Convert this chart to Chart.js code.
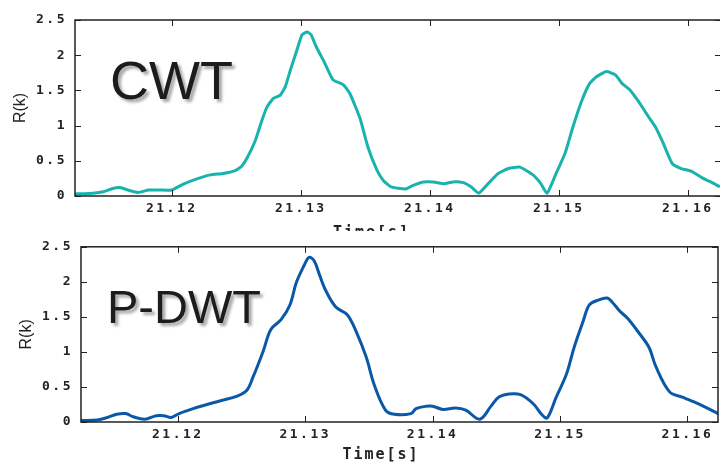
<!DOCTYPE html>
<html>
<head>
<meta charset="utf-8">
<script src="https://cdn.jsdelivr.net/npm/chart.js@4/dist/chart.umd.min.js"></script>
<style>
  html, body { margin: 0; padding: 0; background: #fff; overflow: hidden; }
  #wrap { position: relative; width: 720px; height: 468px; }
  canvas { position: absolute; left: 0; background: #fff; }
  #top { top: 0; }
  #bot { top: 231px; }
</style>
</head>
<body>
<div id="wrap">
  <canvas id="top" width="722" height="240"></canvas>
  <canvas id="bot" width="720" height="237"></canvas>
</div>
<script>
// valores: R(k) frente al tiempo [s]
const cwtTime = [21.1125, 21.1139, 21.1147, 21.1153, 21.1160, 21.1166, 21.1174, 21.1182, 21.1191, 21.1200,
  21.1209, 21.1219, 21.1230, 21.1240, 21.1249, 21.1254, 21.1259, 21.1265, 21.1270, 21.1274,
  21.1279, 21.1284, 21.1288, 21.1292, 21.1297, 21.1301, 21.1305, 21.1308, 21.1312, 21.1318,
  21.1325, 21.1333, 21.1338, 21.1346, 21.1352, 21.1359, 21.1364, 21.1370, 21.1381, 21.1387,
  21.1395, 21.1403, 21.1411, 21.1418, 21.1426, 21.1432, 21.1438, 21.1445, 21.1453, 21.1461,
  21.1470, 21.1480, 21.1486, 21.1491, 21.1498, 21.1505, 21.1511, 21.1518, 21.1524, 21.1529,
  21.1537, 21.1544, 21.1549, 21.1555, 21.1562, 21.1568, 21.1575, 21.1581, 21.1588, 21.1595,
  21.1603, 21.1612, 21.1620, 21.1625];
const cwtR = [0.03, 0.04, 0.06, 0.10, 0.12, 0.085, 0.05, 0.085, 0.085, 0.085,
  0.17, 0.24, 0.30, 0.32, 0.36, 0.42, 0.56, 0.80, 1.08, 1.27,
  1.39, 1.43, 1.55, 1.79, 2.07, 2.29, 2.33, 2.29, 2.12, 1.91,
  1.65, 1.58, 1.46, 1.10, 0.70, 0.37, 0.22, 0.13, 0.10, 0.15,
  0.20, 0.20, 0.175, 0.20, 0.19, 0.13, 0.04, 0.17, 0.32, 0.39,
  0.41, 0.30, 0.18, 0.04, 0.32, 0.61, 0.98, 1.36, 1.60, 1.69,
  1.77, 1.72, 1.60, 1.51, 1.34, 1.17, 0.98, 0.75, 0.46, 0.39,
  0.35, 0.25, 0.18, 0.13];

const dwtTime = [21.1124, 21.1137, 21.1144, 21.1152, 21.1159, 21.1165, 21.1174, 21.1183, 21.1189, 21.1195,
  21.1201, 21.1212, 21.1225, 21.1235, 21.1246, 21.1254, 21.1259, 21.1267, 21.1273, 21.1281,
  21.1288, 21.1293, 21.1299, 21.1303, 21.1307, 21.1311, 21.1316, 21.1324, 21.1333, 21.1340,
  21.1348, 21.1354, 21.1363, 21.1370, 21.1383, 21.1387, 21.1395, 21.1400, 21.1408, 21.1418,
  21.1426, 21.1437, 21.1446, 21.1452, 21.1460, 21.1469, 21.1479, 21.1486, 21.1490, 21.1497,
  21.1505, 21.1511, 21.1518, 21.1523, 21.1530, 21.1537, 21.1541, 21.1547, 21.1553, 21.1562,
  21.1570, 21.1575, 21.1586, 21.1596, 21.1604, 21.1612, 21.1624];
const dwtR = [0.02, 0.03, 0.06, 0.11, 0.12, 0.075, 0.04, 0.09, 0.09, 0.065,
  0.12, 0.19, 0.26, 0.31, 0.365, 0.45, 0.64, 1.01, 1.32, 1.46,
  1.67, 1.99, 2.23, 2.35, 2.30, 2.11, 1.88, 1.64, 1.53, 1.29,
  0.92, 0.54, 0.17, 0.11, 0.12, 0.19, 0.225, 0.225, 0.18, 0.20,
  0.17, 0.04, 0.23, 0.355, 0.40, 0.39, 0.26, 0.10, 0.06, 0.355,
  0.68, 1.06, 1.43, 1.67, 1.74, 1.77, 1.71, 1.58, 1.48, 1.27,
  1.06, 0.80, 0.43, 0.355, 0.295, 0.23, 0.12];

const xTicks = [21.12, 21.13, 21.14, 21.15, 21.16];
const yTicks = [0, 0.5, 1, 1.5, 2, 2.5];
const X_TITLE = 'Time[s]';
const Y_TITLE = 'R(k)';

const COLOR_CWT = '#19b3ae';
const COLOR_DWT = '#0a58a8';
const INK = '#222';
const TICK = 6;

// marco con ticks hacia dentro en los cuatro lados + textos
const framePlugin = {
  id: 'frame',
  beforeDraw(chart) {
    chart.ctx.letterSpacing = '2.5px';
  },
  afterDraw(chart, args, opts) {
    const { ctx, chartArea: a, scales } = chart;
    ctx.save();
    ctx.strokeStyle = INK;
    ctx.lineWidth = 1;
    ctx.beginPath();
    scales.x.ticks.forEach(t => {
      const px = Math.round(scales.x.getPixelForValue(t.value)) + 0.5;
      ctx.moveTo(px, a.bottom); ctx.lineTo(px, a.bottom - TICK);
      ctx.moveTo(px, a.top); ctx.lineTo(px, a.top + TICK);
    });
    scales.y.ticks.forEach(t => {
      const py = Math.round(scales.y.getPixelForValue(t.value)) + 0.5;
      ctx.moveTo(a.left, py); ctx.lineTo(a.left + TICK, py);
      ctx.moveTo(a.right, py); ctx.lineTo(a.right - TICK, py);
    });
    ctx.stroke();
    ctx.lineWidth = 1.5;
    ctx.strokeRect(a.left, a.top, a.right - a.left, a.bottom - a.top);

    ctx.fillStyle = INK;
    ctx.textAlign = 'center';
    ctx.textBaseline = 'middle';
    ctx.font = 'bold 15px "DejaVu Sans Mono"';
    ctx.letterSpacing = '2px';
    ctx.fillText(X_TITLE, a.left + (a.right - a.left) * opts.titleFrac, a.bottom + opts.titleDy);

    ctx.letterSpacing = '0px';
    ctx.save();
    ctx.translate(a.left - 54, (a.top + a.bottom) / 2);
    ctx.rotate(-Math.PI / 2);
    ctx.font = '16px "Liberation Sans"';
    ctx.fillText(Y_TITLE, 0, 0);
    ctx.restore();

    ctx.textAlign = 'left';
    ctx.textBaseline = 'alphabetic';
    ctx.font = opts.size + 'px "Liberation Sans"';
    ctx.shadowColor = 'rgba(0,0,0,0.35)';
    ctx.shadowOffsetX = 3;
    ctx.shadowOffsetY = 3;
    ctx.shadowBlur = 3;
    ctx.fillStyle = '#1c1c1c';
    ctx.fillText(opts.label, a.left + opts.dx, a.top + opts.dy);
    ctx.restore();
  }
};

function makeChart(canvas, times, values, cfg) {
  const points = times.map((t, i) => ({ x: t, y: values[i] }));
  const tickFont = { family: '"DejaVu Sans Mono"', size: 13, weight: 'bold' };
  return new Chart(canvas.getContext('2d'), {
    type: 'line',
    data: {
      datasets: [{
        data: points,
        borderColor: cfg.color,
        borderWidth: 3,
        pointRadius: 0,
        tension: cfg.tension,
        fill: false,
      }],
    },
    options: {
      responsive: false,
      animation: false,
      events: [],
      layout: { padding: cfg.padding },
      scales: {
        x: {
          type: 'linear',
          min: cfg.xMin,
          max: cfg.xMax,
          afterFit: s => { s.height = cfg.xHeight; },
          afterBuildTicks: s => { s.ticks = xTicks.map(v => ({ value: v })); },
          grid: { display: false, drawTicks: false },
          border: { display: false },
          ticks: {
            color: INK, font: tickFont, padding: 5,
            maxRotation: 0, autoSkip: false,
            callback: v => v.toFixed(2),
          },
        },
        y: {
          min: 0,
          max: 2.5,
          afterFit: s => { s.width = cfg.yWidth; },
          afterBuildTicks: s => { s.ticks = yTicks.map(v => ({ value: v })); },
          grid: { display: false, drawTicks: false },
          border: { display: false },
          ticks: { color: INK, font: tickFont, padding: 8, callback: v => String(v) },
        },
      },
      plugins: {
        legend: { display: false },
        tooltip: { enabled: false },
        frame: cfg.frame,
      },
    },
    plugins: [framePlugin],
  });
}

makeChart(document.getElementById('top'), cwtTime, cwtR, {
  color: COLOR_CWT, tension: 0.15,
  xMin: 21.1125, xMax: 21.16258,
  padding: { top: 20, right: 1, left: 0, bottom: 0 },
  xHeight: 44, yWidth: 75,
  frame: { label: 'CWT', size: 54, dx: 35, dy: 79, titleFrac: 0.459, titleDy: 37 },
});

makeChart(document.getElementById('bot'), dwtTime, dwtR, {
  color: COLOR_DWT, tension: 0.35,
  xMin: 21.1124, xMax: 21.1624,
  padding: { top: 13, right: 2, left: 0, bottom: 0 },
  xHeight: 46, yWidth: 81,
  frame: { label: 'P-DWT', size: 47, dx: 26, dy: 76, titleFrac: 0.471, titleDy: 33 },
});
</script>
</body>
</html>
